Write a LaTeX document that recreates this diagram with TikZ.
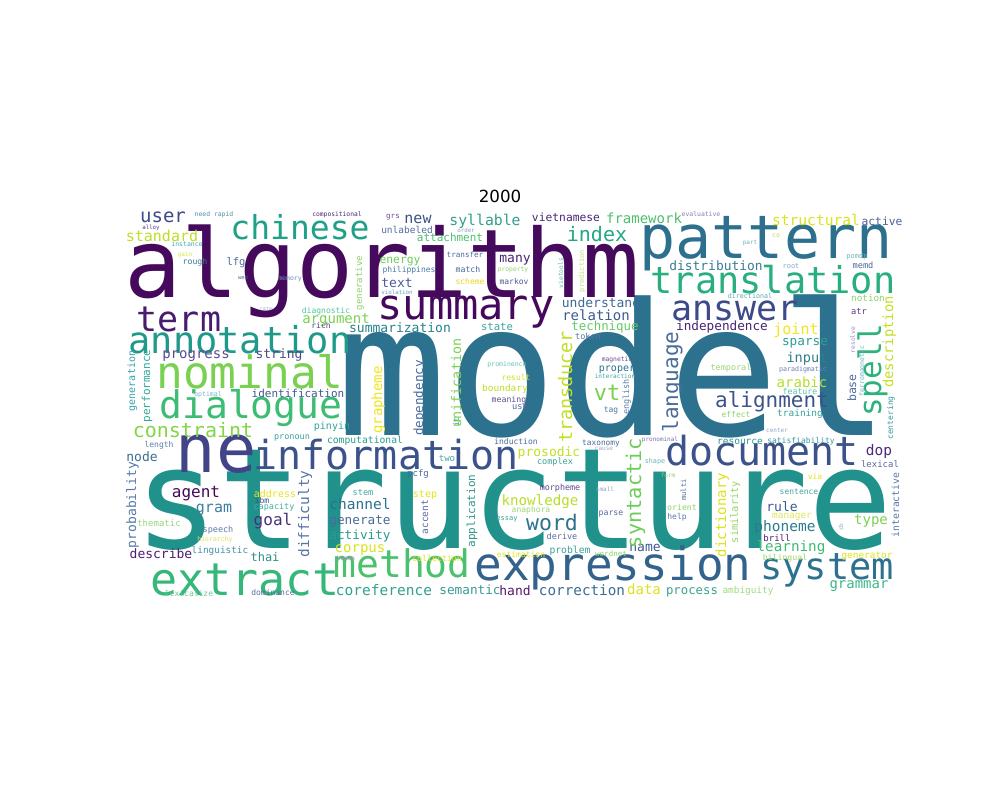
\documentclass[tikz,border=0pt]{standalone}
\usepackage{fontspec}
\newfontfamily\wcf{DejaVu Sans Mono}
\newfontfamily\ttlf{DejaVu Sans}
\tikzset{wc/.style={anchor=base,inner sep=0pt,outer sep=0pt,font=\wcf}}
\newcommand\W[5]{\node[wc] (#5) at (#1,#2) {\fontsize{#3}{#3}\selectfont\color[HTML]{#4}#5};}
\newcommand\V[5]{\node[wc,rotate=90] (#5) at (#1,#2) {\fontsize{#3}{#3}\selectfont\color[HTML]{#4}#5};}
\begin{document}
\begin{tikzpicture}[x=1pt,y=-1pt]
\fill[white] (0,0) rectangle (1000,800);
\useasboundingbox (0,0) rectangle (1000,800);
\node[anchor=base,inner sep=0pt,font=\ttlf\fontsize{16.7}{20}\selectfont] (title) at (500,202) {2000};
% big words
\W{514}{548}{140}{21918C}{structure}
\W{613}{435}{184}{2C728E}{model}
\W{382}{297}{95}{450A5C}{algorithm}
\W{766}{258}{60}{2D708E}{pattern}
\W{300}{239}{33}{1FA187}{chinese}
\W{466}{319}{42}{46085C}{summary}
\W{773}{293}{37}{29AF7F}{translation}
\W{179}{331}{35}{481C6E}{term}
\W{735}{320}{35}{3E4989}{answer}
\W{240}{353}{37}{1F9A8A}{annotation}
\W{250}{388}{44.5}{7AD151}{nominal}
\W{251}{418}{38}{3DBC74}{dialogue}
\W{216}{472}{67}{414487}{ne}
\W{386}{469}{40}{3B528B}{information}
\W{762}{465}{40}{3B528B}{document}
\W{613}{580}{46}{33638D}{expression}
\W{245}{595}{45}{35B779}{extract}
\W{402}{577}{38}{4AC16D}{method}
\W{827}{579}{37}{2C728E}{system}
\W{772}{407}{21}{3B528B}{alignment}
\W{193}{437}{20}{86D549}{constraint}
\W{597}{241}{20}{22A884}{index}
\W{552}{530}{21.5}{2C728E}{word}
\W{607}{400}{22}{7AD151}{vt}
% medium and small words
\W{163}{222}{19}{3E4A89}{user}
\W{162}{241}{15}{BDDF26}{standard}
\W{336}{323}{14}{7AD151}{argument}
\W{400}{332}{13}{26828E}{summarization}
\W{196}{358}{14}{5D4A8F}{progress}
\W{279}{358}{13}{4F4B8A}{string}
\W{298}{397}{11}{3E5A8E}{identification}
\W{208}{396}{6.5}{7FB3D5}{optimal}
\W{332}{429}{10}{2FA595}{pinyin}
\W{292}{439}{8.5}{3AA3A0}{pronoun}
\W{365}{443}{9.7}{2A9D8F}{computational}
\W{159}{447}{8}{5A7FA8}{length}
\W{142}{461}{13}{3D6E8E}{node}
\W{196}{497}{16}{46075A}{agent}
\W{214}{512}{15}{3E7EA0}{gram}
\W{273}{525}{16}{472F7D}{goal}
\W{275}{497}{10}{E8E419}{address}
\W{262}{503}{8}{3B528B}{ibm}
\W{274}{509}{8.5}{45B0A0}{capacity}
\W{363}{495}{8.6}{43A89B}{stem}
\W{360}{509}{14.5}{2C728E}{channel}
\W{159}{526}{9}{9BD57B}{thematic}
\W{218}{532}{8.5}{5A7AA8}{speech}
\W{360}{524}{12.7}{4A6A9A}{generate}
\W{215}{541}{6.5}{DFE35A}{hierarchy}
\W{360}{539}{12.7}{2A9D8F}{activity}
\W{220}{553}{9.4}{4A8FA5}{linguistic}
\W{360}{552}{14}{D8E219}{corpus}
\W{161}{558}{13}{4F1C74}{describe}
\W{265}{561}{12}{2F8F8A}{thai}
\W{346}{560}{6}{A48FC0}{human}
\W{189}{596}{8}{6CC5A0}{lexicalize}
\W{273}{595}{8}{5A6E9E}{dominance}
\W{384}{595}{14.5}{31A38E}{coreference}
\W{337}{216}{6.3}{482878}{compositional}
\node[wc] (needrapid) at (214,216) {\fontsize{6.4}{6.4}\selectfont\color[HTML]{4A90A8}need rapid};
\W{151}{229}{5.8}{5A3A8A}{alloy}
\W{187}{246}{6.5}{48A9B8}{instance}
\W{185}{256}{6}{D9E544}{gain}
\W{195}{264}{8.2}{3D7B90}{rough}
\W{236}{265}{10.5}{4A6F9A}{lfg}
\W{243}{279}{5.5}{4A6A9A}{web}
\W{290}{280}{6.5}{6D8FB5}{memory}
\W{266}{310}{5}{9FB5C8}{rate}
\W{326}{313}{8}{52C5A0}{diagnostic}
\W{321}{328}{8}{5B3A8C}{rich}
\W{393}{218}{7.5}{6B4C8E}{grs}
\W{418}{223}{15}{3B528B}{new}
\W{485}{225}{14.8}{33A08C}{syllable}
\W{566}{221}{11.3}{482878}{vietnamese}
\W{644}{223}{14}{4FBE6E}{framework}
\W{407}{233}{9.5}{54709E}{unlabeled}
\W{466}{232}{5.8}{8AA0C0}{order}
\W{450}{241}{11}{4AC16D}{attachment}
\W{400}{263}{11.3}{6CCD5A}{energy}
\W{465}{257}{7.6}{4A6A9A}{transfer}
\W{515}{262}{13}{482475}{many}
\W{409}{272}{8}{4A7AA8}{philippines}
\W{468}{272}{8.2}{44689A}{match}
\W{513}{271}{6.3}{8FD16C}{property}
\W{397}{287}{13}{4C5E9A}{text}
\W{470}{284}{8}{E8D81E}{scheme}
\W{514}{284}{8}{4D5B8F}{markov}
\W{397}{294}{5.8}{6A9FC6}{violation}
\W{601}{307}{13}{3E6B96}{understand}
\W{596}{320}{14}{3E5A90}{relation}
\W{497}{330}{10.6}{3AA4A0}{state}
\W{605}{330}{12.4}{67C967}{technique}
\W{588}{339}{8.5}{5A76A6}{token}
\W{507}{366}{6.5}{67C4B4}{prominence}
\W{516}{380}{8}{D0E11C}{result}
\W{505}{391}{9.5}{C0DF25}{boundary}
\W{509}{402}{8.2}{5D4E8F}{meaning}
\W{520}{409}{8.7}{4A6A9A}{usm}
\W{617}{361}{6.3}{6A4C93}{magnetic}
\W{617}{371}{10}{2C728E}{proper}
\W{615}{378}{6.1}{3CA3A0}{interaction}
\W{611}{412}{8}{4F7AA0}{tag}
\W{731}{370}{8.5}{9BD67A}{temporal}
\W{736}{417}{8}{8FD16C}{effect}
\W{800}{416}{9.5}{3AA39A}{training}
\W{800}{394}{8.2}{5CC2A8}{feature}
\W{802}{387}{14}{B5DE2B}{arabic}
\W{803}{371}{6.6}{6A7FB0}{paradigmatic}
\W{807}{362}{13.6}{2F7F8E}{input}
\W{805}{345}{12.7}{2E9C93}{sparse}
\W{796}{334}{15}{F4E61E}{joint}
\W{722}{330}{12.7}{482475}{independence}
\W{750}{298}{6.7}{5FA8B8}{directional}
\W{716}{270}{12.9}{3A7D95}{distribution}
\W{791}{268}{7}{8AA8C8}{root}
\W{863}{268}{8.6}{4A6A96}{memd}
\W{857}{258}{7}{6BB5B8}{pomdp}
\W{816}{225}{14.6}{DDE318}{structural}
\W{882}{225}{11.3}{4F5D98}{active}
\W{701}{216}{6.4}{8A7FB6}{evaluative}
\W{776}{237}{6.5}{C8D850}{co}
\W{750}{244}{6}{6FB3B5}{part}
\W{868}{301}{9.3}{8FD16C}{notion}
\W{859}{314}{8.7}{5A3A8A}{atr}
\W{777}{432}{6}{8AA8C8}{center}
\W{660}{441}{6}{7B6FA8}{pronominal}
\W{740}{444}{9.5}{2E968E}{resource}
\W{801}{443}{8}{3A9FA0}{satisfiability}
\W{879}{455}{14.5}{4B2A7B}{dop}
\W{880}{467}{9}{5A6A9E}{lexical}
\W{655}{463}{6.8}{6BB5B8}{shape}
\W{668}{477}{6}{8FD16C}{form}
\W{815}{479}{8}{E2E418}{via}
\W{799}{494}{8}{45A5A0}{sentence}
\W{782}{511}{13}{3E5A90}{rule}
\W{682}{510}{8.2}{8FD16C}{orient}
\W{677}{519}{8}{5A7AA8}{help}
\W{792}{518}{9.4}{DFE55A}{manager}
\W{785}{531}{14.5}{2B7B8E}{phoneme}
\W{871}{524}{14}{7AD151}{type}
\W{777}{541}{9}{5B1A6E}{brill}
\W{791}{551}{14.3}{3FBC73}{learning}
\W{645}{551}{13}{3E5A90}{name}
\W{785}{560}{8.2}{9FD76A}{bilingual}
\W{867}{558}{9.4}{DDE318}{generator}
\W{644}{594}{14}{DDE318}{data}
\W{692}{594}{12.3}{3AA38F}{process}
\W{748}{593}{9.4}{A0DA7F}{ambiguity}
\W{859}{588}{14}{3CB68A}{grammar}
\W{516}{444}{8}{4A6A9A}{induction}
\W{601}{445}{7.8}{4A6A9A}{taxonomy}
\W{604}{450}{6}{9FA8C8}{cause}
\W{549}{456}{13}{C2DF23}{prosodic}
\W{447}{461}{9}{45A5A0}{two}
\W{555}{464}{8.5}{3AA39A}{complex}
\W{418}{476}{9}{4A6A9A}{pcfg}
\W{605}{491}{6}{8AA0C0}{small}
\W{560}{490}{8.4}{5D4A8F}{morpheme}
\W{425}{497}{10}{E5E419}{step}
\W{540}{505}{14.2}{B8DE29}{knowledge}
\W{531}{512}{8}{9CD570}{anaphora}
\W{507}{520}{7}{3AA39A}{essay}
\W{611}{515}{8.2}{5A6A9E}{parse}
\W{562}{539}{8.5}{5A6A9E}{derive}
\W{570}{553}{9.7}{3AA39A}{problem}
\W{611}{556}{7.5}{8FD16C}{wordnet}
\W{521}{557}{8}{E2E418}{estimation}
\W{437}{561}{8.3}{E2E418}{collection}
\W{470}{594}{12.7}{3A9A93}{semantic}
\W{515}{595}{13}{5B166E}{hand}
\W{582}{595}{14.3}{3A6E95}{correction}
% vertical words
\V{362}{283}{9}{8FD16C}{generative}
\V{135}{381}{10}{35A2B0}{generation}
\V{150}{386}{11}{33A99A}{performance}
\V{382}{400}{14}{F0E51C}{grapheme}
\V{136}{505}{13}{5579A8}{probability}
\V{309}{514}{14.5}{5875A4}{difficulty}
\V{461}{383}{13.3}{7AD151}{unification}
\V{423}{398}{12.6}{4A6A9E}{dependency}
\V{572}{387}{18.5}{C2DF23}{transducer}
\V{563}{273}{6.3}{6BB5B8}{vietools}
\V{584}{271}{7}{C0E080}{prediction}
\V{629}{397}{8.5}{5A7FA8}{english}
\V{678}{382}{21}{4A6B9B}{language}
\V{459}{422}{8}{3AA39A}{it}
\V{893}{342}{13.8}{C2DF23}{description}
\V{881}{370}{31}{2DB27D}{spell}
\V{855}{340}{6.3}{9F8FC0}{resolve}
\V{864}{371}{6.5}{6BB5B8}{ferromagnetic}
\V{856}{388}{11.5}{4F6A9A}{base}
\V{893}{418}{8}{3F9A9A}{centering}
\V{899}{505}{9.8}{5A7AA8}{interactive}
\V{686}{490}{7}{4A6A9A}{multi}
\V{726}{515}{14}{DDE318}{dictionary}
\V{738}{512}{10.3}{96D569}{similarity}
\V{641}{493}{20.3}{6CCD5A}{syntactic}
\V{475}{511}{11}{2E968E}{application}
\V{428}{517}{9.5}{5A6A9E}{accent}
\V{843}{527}{6}{8AA8C8}{cb}
\end{tikzpicture}
\end{document}
